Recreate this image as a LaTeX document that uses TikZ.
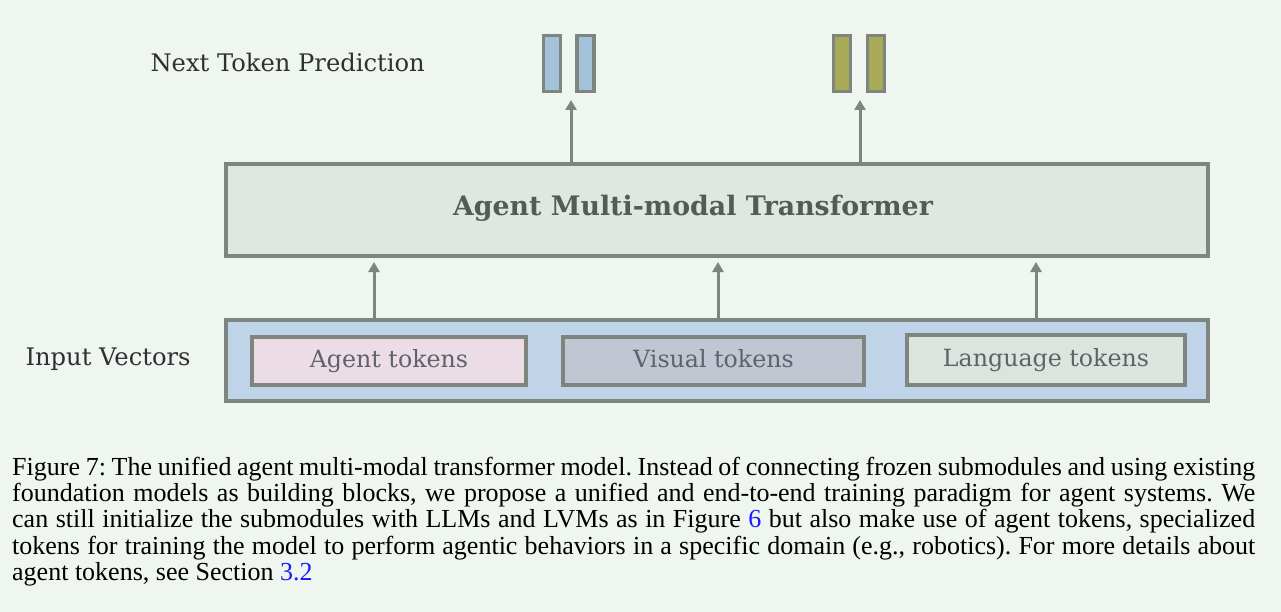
\documentclass[tikz,border=0pt]{standalone}
\usepackage{fontspec}
\setmainfont{Liberation Serif}
\newfontfamily\diafont{DejaVu Serif}
\usetikzlibrary{arrows.meta}
\definecolor{bgc}{HTML}{EFF5EF}
\definecolor{edgec}{HTML}{7E847E}
\definecolor{trfill}{HTML}{DFE7E2}
\definecolor{infill}{HTML}{BFD4E8}
\definecolor{agfill}{HTML}{EBDCE5}
\definecolor{visfill}{HTML}{C0C6D2}
\definecolor{langfill}{HTML}{DDE3DD}
\definecolor{bluebar}{HTML}{A3C2D9}
\definecolor{olivebar}{HTML}{A8AA58}
\definecolor{labc}{HTML}{2E3033}
\definecolor{tokc}{HTML}{5E636B}
\definecolor{titc}{HTML}{555A57}
\definecolor{linkblue}{HTML}{1A1AFF}
\tikzset{
  boxst/.style={draw=edgec, line width=3.5pt, inner sep=0pt},
  barst/.style={draw=edgec, line width=3.5pt, inner sep=0pt, minimum width=17pt, minimum height=56pt},
  arr/.style={draw=edgec, line width=3pt, -{Triangle[width=11pt,length=10pt]}},
  toklab/.style={font=\diafont\fontsize{23.7}{28}\selectfont, text=tokc, text height=17pt, text depth=5pt},
  sidelab/.style={font=\diafont\fontsize{24.2}{28}\selectfont, text=labc, anchor=west},
  capline/.style={anchor=base west, inner sep=0pt, font=\fontsize{26}{26.4}\selectfont\frenchspacing, text=black}
}
\begin{document}
\begin{tikzpicture}[x=1pt,y=-1pt]
\fill[bgc] (0,0) rectangle (1281,612);
\useasboundingbox (0,0) rectangle (1281,612);
% transformer
\node[boxst, fill=trfill, minimum width=982pt, minimum height=92pt] (tr) at (717,210) {};
\node[font=\diafont\bfseries\fontsize{26.8}{30}\selectfont, text=titc] (trl) at (693,208) {Agent Multi-modal Transformer};
% input
\node[boxst, fill=infill, minimum width=982pt, minimum height=81pt] (in) at (717,360.5) {};
\node[boxst, fill=agfill, minimum width=274pt, minimum height=48pt, toklab] (ag) at (389,361) {Agent tokens};
\node[boxst, fill=visfill, minimum width=301pt, minimum height=48pt, toklab] (vis) at (713.5,361) {Visual tokens};
\node[boxst, fill=langfill, minimum width=278pt, minimum height=50pt, toklab] (lang) at (1046,360) {Language tokens};
% labels
\node[sidelab] (ntp) at (147,62) {Next Token Prediction};
\node[sidelab] (iv) at (22,359) {Input Vectors};
% bars
\node[barst, fill=bluebar] (b1) at (552,63.5) {};
\node[barst, fill=bluebar] (b2) at (585.5,63.5) {};
\node[barst, fill=olivebar] (o1) at (842,63.5) {};
\node[barst, fill=olivebar] (o2) at (876,63.5) {};
% arrows
\coordinate (a1s) at (374,318); \coordinate (a1e) at (374,262);
\coordinate (a2s) at (718,318); \coordinate (a2e) at (718,262);
\coordinate (a3s) at (1036,318); \coordinate (a3e) at (1036,262);
\coordinate (t1s) at (571,162); \coordinate (t1e) at (571,100);
\coordinate (t2s) at (860,162); \coordinate (t2e) at (860,100);
\draw[arr] (a1s) -- (a1e);
\draw[arr] (a2s) -- (a2e);
\draw[arr] (a3s) -- (a3e);
\draw[arr] (t1s) -- (t1e);
\draw[arr] (t2s) -- (t2e);
% caption
\node[capline] (c1) at (12,475) {\hbox to 1243pt{\spaceskip=0.2em plus 0.3em minus 0.1em Figure 7: The unified agent multi-modal transformer model. Instead of connecting frozen submodules and using existing}};
\node[capline] (c2) at (12,501.4) {\hbox to 1243pt{\spaceskip=0.2em plus 0.3em minus 0.1em foundation models as building blocks, we propose a unified and end-to-end training paradigm for agent systems. We}};
\node[capline] (c3) at (12,527.8) {\hbox to 1243pt{\spaceskip=0.2em plus 0.3em minus 0.1em can still initialize the submodules with LLMs and LVMs as in Figure \textcolor{linkblue}{6} but also make use of agent tokens, specialized}};
\node[capline] (c4) at (12,554.2) {\hbox to 1243pt{\spaceskip=0.2em plus 0.3em minus 0.1em tokens for training the model to perform agentic behaviors in a specific domain (e.g., robotics). For more details about}};
\node[capline] (c5) at (12,580.6) {agent tokens, see Section \textcolor{linkblue}{3.2}};
\end{tikzpicture}
\end{document}
